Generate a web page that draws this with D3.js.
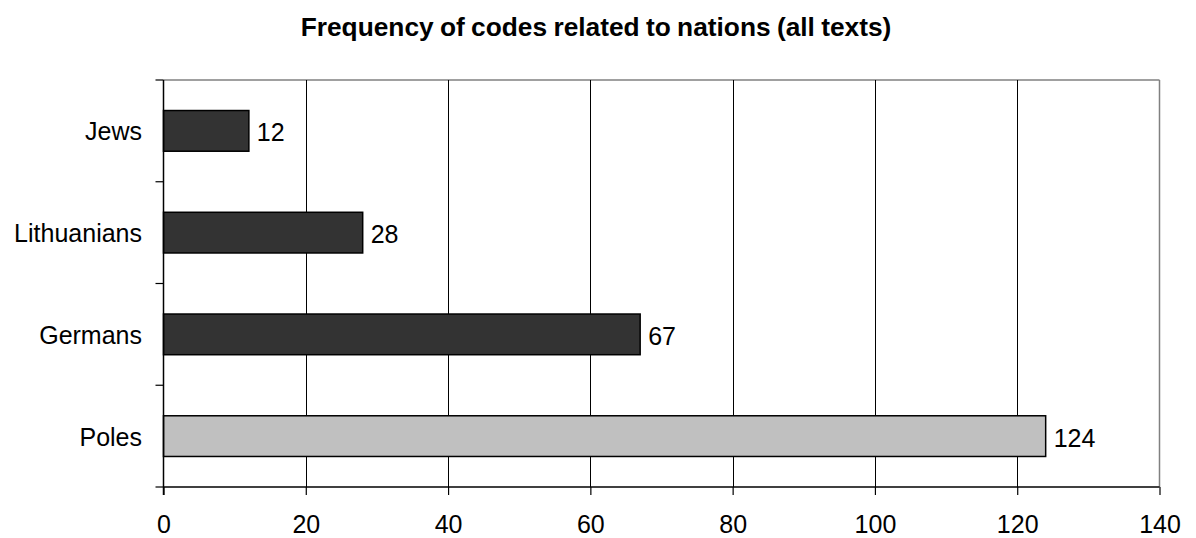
<!DOCTYPE html>
<html>
<head>
<meta charset="utf-8">
<script src="https://cdn.jsdelivr.net/npm/d3@7"></script>
<style>
  html, body { margin: 0; padding: 0; background: #fff; }
  svg { display: block; font-family: "Liberation Sans", Arial, sans-serif; }
</style>
</head>
<body>
<svg id="chart" width="1196" height="538"></svg>
<script>
// Nations and how often their codes appear across all texts
const categories = ["Jews", "Lithuanians", "Germans", "Poles"];
const counts = [12, 28, 67, 124];
const highlighted = ["Poles"];
const xTicks = [0, 20, 40, 60, 80, 100, 120, 140];
const title = "Frequency of codes related to nations (all texts)";

const svg = d3.select("#chart");
const margin = { left: 163.5, right: 1159.5, top: 80, bottom: 487 };

const x = d3.scaleLinear().domain([0, 140]).range([margin.left, margin.right]);
const y = d3.scaleBand().domain(categories).range([margin.top, margin.bottom]).paddingInner(0.6).paddingOuter(0.3);
const band = d3.scaleBand().domain(categories).range([margin.top, margin.bottom]);

// title
svg.append("text")
  .attr("x", 596).attr("y", 36)
  .attr("text-anchor", "middle")
  .attr("font-weight", "bold")
  .attr("font-size", 26.3)
  .attr("word-spacing", -1)
  .text(title);

// plot frame: top and right in gray
svg.append("line")
  .attr("x1", margin.left).attr("x2", margin.right)
  .attr("y1", margin.top).attr("y2", margin.top)
  .attr("stroke", "#808080").attr("stroke-width", 1.5);
svg.append("line")
  .attr("x1", margin.right).attr("x2", margin.right)
  .attr("y1", margin.top).attr("y2", margin.bottom)
  .attr("stroke", "#808080").attr("stroke-width", 1.5);

// vertical grid lines
svg.append("g")
  .selectAll("line")
  .data(xTicks.filter(t => t > 0 && t < 140))
  .join("line")
  .attr("x1", d => Math.round(x(d)) + 0.5).attr("x2", d => Math.round(x(d)) + 0.5)
  .attr("y1", margin.top).attr("y2", margin.bottom)
  .attr("stroke", "#000").attr("stroke-width", 1);

// bars
svg.append("g")
  .selectAll("rect")
  .data(categories)
  .join("rect")
  .attr("x", x(0))
  .attr("y", d => y(d))
  .attr("width", (d, i) => x(counts[i]) - x(0))
  .attr("height", y.bandwidth())
  .attr("fill", d => highlighted.includes(d) ? "#c0c0c0" : "#333333")
  .attr("stroke", "#000").attr("stroke-width", 1.5);

// value labels
svg.append("g")
  .selectAll("text")
  .data(categories)
  .join("text")
  .attr("x", (d, i) => x(counts[i]) + 8)
  .attr("y", d => y(d) + y.bandwidth() / 2 + 10.5)
  .attr("font-size", 25)
  .text((d, i) => counts[i]);

// x axis
const xAxis = d3.axisBottom(x).tickValues(xTicks).tickSize(8).tickPadding(20).tickFormat(d3.format("d"));
const gx = svg.append("g").attr("transform", `translate(0,${margin.bottom})`).call(xAxis);
gx.select(".domain").attr("stroke", "#000").attr("stroke-width", 1.5).attr("d", `M${margin.left},0H${margin.right}`);
gx.selectAll(".tick line").attr("stroke", "#000").attr("stroke-width", 1.2);
gx.selectAll(".tick text").attr("font-size", 25).attr("fill", "#000").attr("font-family", "Liberation Sans, Arial, sans-serif");

// y axis: line with ticks at category boundaries
const gy = svg.append("g");
gy.append("line")
  .attr("x1", margin.left).attr("x2", margin.left)
  .attr("y1", margin.top).attr("y2", margin.bottom + 8)
  .attr("stroke", "#000").attr("stroke-width", 1.5);
gy.selectAll("line.tk")
  .data(categories.concat(["__end"]))
  .join("line")
  .attr("class", "tk")
  .attr("x1", margin.left - 8).attr("x2", margin.left)
  .attr("y1", (d, i) => margin.top + i * band.bandwidth())
  .attr("y2", (d, i) => margin.top + i * band.bandwidth())
  .attr("stroke", "#000").attr("stroke-width", 1.2);
gy.selectAll("text")
  .data(categories)
  .join("text")
  .attr("x", margin.left - 21.5)
  .attr("y", d => y(d) + y.bandwidth() / 2 + 9.5)
  .attr("text-anchor", "end")
  .attr("font-size", 25)
  .text(d => d);
</script>
</body>
</html>
